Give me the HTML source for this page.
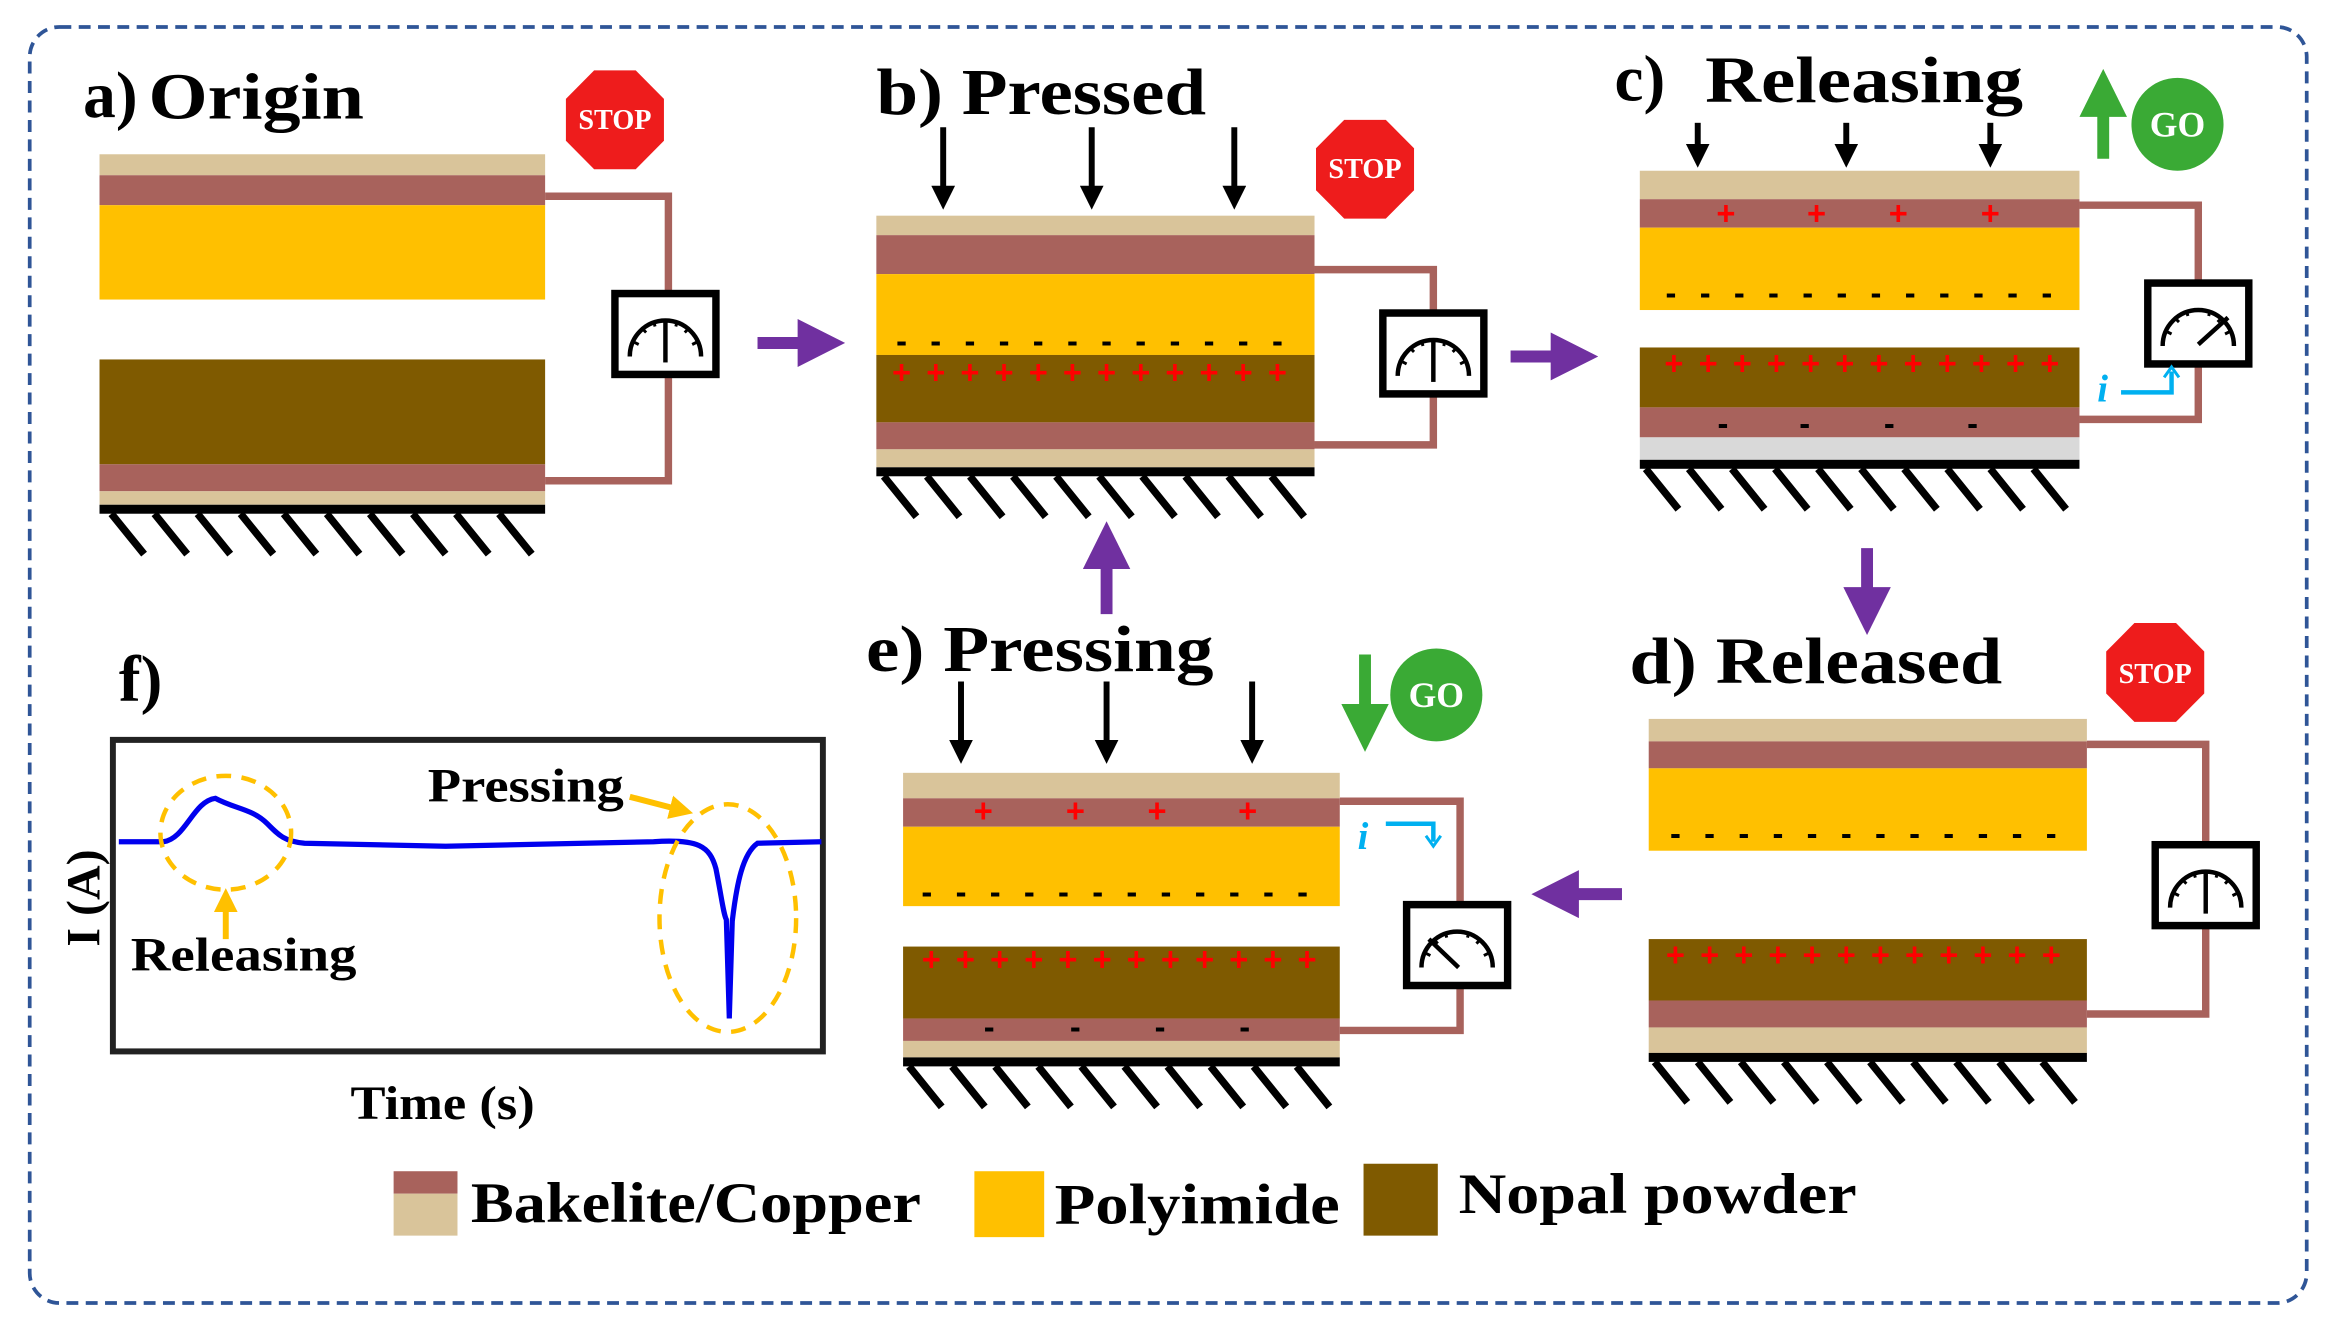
<!DOCTYPE html>
<html><head><meta charset="utf-8"><style>html,body{margin:0;padding:0;background:#fff}svg{display:block}</style></head>
<body>
<svg width="2329" height="1321" viewBox="0 0 1568 882" preserveAspectRatio="none" xmlns="http://www.w3.org/2000/svg" font-family="Liberation Serif, serif">
<defs>
<marker id="pa" markerWidth="4" markerHeight="4" refX="1" refY="2" orient="auto"><path d="M0,0 L4,2 L0,4 Z" fill="#7030a0"/></marker>
<marker id="ka" markerWidth="4" markerHeight="4" refX="1" refY="2" orient="auto"><path d="M0,0 L4,2 L0,4 Z" fill="#000"/></marker>
<marker id="ga" markerWidth="4" markerHeight="4" refX="1" refY="2" orient="auto"><path d="M0,0 L4,2 L0,4 Z" fill="#3aaa35"/></marker>
<marker id="ya" markerWidth="4" markerHeight="4" refX="1" refY="2" orient="auto"><path d="M0,0 L4,2 L0,4 Z" fill="#ffc000"/></marker>
<g id="meter"><rect x="2" y="2" width="68" height="54" fill="#fff" stroke="#000" stroke-width="5"/><path d="M12,44 A24,24 0 0 1 60,44" fill="none" stroke="#000" stroke-width="3"/><path d="M14,34 l4,2 M20,25 l3,3 M28,20 l1,4 M44,20 l-1,4 M52,25 l-3,3 M58,34 l-4,2" stroke="#000" stroke-width="2"/></g>
</defs>
<rect x="20" y="18" width="1533" height="852" rx="20" fill="none" stroke="#2f5597" stroke-width="2.5" stroke-dasharray="8,5"/>
<g font-weight="bold" font-size="44">
<text x="56" y="78">a)</text><text x="100" y="79" textLength="145" lengthAdjust="spacingAndGlyphs">Origin</text>
<text x="590" y="76" textLength="222" lengthAdjust="spacingAndGlyphs">b) Pressed</text>
<text x="1087" y="67">c)</text><text x="1148" y="68" textLength="214" lengthAdjust="spacingAndGlyphs">Releasing</text>
<text x="1097" y="456" textLength="251" lengthAdjust="spacingAndGlyphs">d) Released</text>
<text x="583" y="448" textLength="234" lengthAdjust="spacingAndGlyphs">e) Pressing</text>
<text x="80" y="468">f)</text>
</g>
<g font-family="Liberation Serif, serif" font-weight="bold" font-size="19" fill="#fff" text-anchor="middle">
<polygon points="400,47 428,47 447,66 447,94 428,113 400,113 381,94 381,66" fill="#ee1c1c"/><text x="414" y="86">STOP</text>
<polygon points="905,80 933,80 952,99 952,127 933,146 905,146 886,127 886,99" fill="#ee1c1c"/><text x="919" y="119">STOP</text>
<polygon points="1437,416 1465,416 1484,435 1484,463 1465,482 1437,482 1418,463 1418,435" fill="#ee1c1c"/><text x="1451" y="456">STOP</text>
<circle cx="1466" cy="83" r="31" fill="#3aaa35"/><text x="1466" y="91" font-size="24">GO</text>
<circle cx="967" cy="464" r="31" fill="#3aaa35"/><text x="967" y="472" font-size="24">GO</text>
</g>
<line x1="1416" y1="106" x2="1416" y2="70" stroke="#3aaa35" stroke-width="8" marker-end="url(#ga)"/>
<line x1="919" y1="437" x2="919" y2="478" stroke="#3aaa35" stroke-width="8" marker-end="url(#ga)"/>
<g fill="none" stroke="#a8625c" stroke-width="5"><path d="M367,131 H450 V196 M450,252 V321 H367"/>
<path d="M885,180 H965 V210 M965,264 V297 H885"/>
<path d="M1400,137 H1480 V190 M1480,238 V280 H1400"/>
<path d="M1405,497 H1485 V565 M1485,620 V677 H1405"/>
<path d="M902,535 H983 V605 M983,660 V688 H902"/></g>
<!-- a -->
<rect x="67" y="103" width="300" height="14" fill="#d9c49a"/><rect x="67" y="117" width="300" height="20" fill="#a8625c"/><rect x="67" y="137" width="300" height="63" fill="#ffc000"/>
<rect x="67" y="240" width="300" height="70" fill="#7f5a00"/><rect x="67" y="310" width="300" height="18" fill="#a8625c"/><rect x="67" y="328" width="300" height="9" fill="#d9c49a"/>
<rect x="67" y="337" width="300" height="6" fill="#000"/>
<path d="M75,343 l22,27 M104,343 l22,27 M133,343 l22,27 M162,343 l22,27 M191,343 l22,27 M220,343 l22,27 M249,343 l22,27 M278,343 l22,27 M307,343 l22,27 M336,343 l22,27" stroke="#000" stroke-width="5"/>
<use href="#meter" x="412" y="194"/><line x1="448" y1="242" x2="448" y2="215" stroke="#000" stroke-width="3"/>
<!-- b -->
<rect x="590" y="144" width="295" height="13" fill="#d9c49a"/><rect x="590" y="157" width="295" height="26" fill="#a8625c"/><rect x="590" y="183" width="295" height="54" fill="#ffc000"/>
<rect x="590" y="237" width="295" height="45" fill="#7f5a00"/><rect x="590" y="282" width="295" height="18" fill="#a8625c"/><rect x="590" y="300" width="295" height="12" fill="#d9c49a"/>
<rect x="590" y="312" width="295" height="6" fill="#000"/>
<path d="M595,318 l22,27 M624,318 l22,27 M653,318 l22,27 M682,318 l22,27 M711,318 l22,27 M740,318 l22,27 M769,318 l22,27 M798,318 l22,27 M827,318 l22,27 M856,318 l22,27" stroke="#000" stroke-width="5"/>
<use href="#meter" x="929" y="207"/><line x1="965" y1="255" x2="965" y2="228" stroke="#000" stroke-width="3"/>
<!-- c -->
<rect x="1104" y="114" width="296" height="19" fill="#d9c49a"/><rect x="1104" y="133" width="296" height="19" fill="#a8625c"/><rect x="1104" y="152" width="296" height="55" fill="#ffc000"/>
<rect x="1104" y="232" width="296" height="40" fill="#7f5a00"/><rect x="1104" y="272" width="296" height="20" fill="#a8625c"/><rect x="1104" y="292" width="296" height="15" fill="#d9d9d9"/>
<rect x="1104" y="307" width="296" height="6" fill="#000"/>
<path d="M1108,313 l22,27 M1137,313 l22,27 M1166,313 l22,27 M1195,313 l22,27 M1224,313 l22,27 M1253,313 l22,27 M1282,313 l22,27 M1311,313 l22,27 M1340,313 l22,27 M1369,313 l22,27" stroke="#000" stroke-width="5"/>
<use href="#meter" x="1444" y="187"/><line x1="1480" y1="230" x2="1500" y2="212" stroke="#000" stroke-width="3"/>
<!-- d -->
<rect x="1110" y="480" width="295" height="15" fill="#d9c49a"/><rect x="1110" y="495" width="295" height="18" fill="#a8625c"/><rect x="1110" y="513" width="295" height="55" fill="#ffc000"/>
<rect x="1110" y="627" width="295" height="41" fill="#7f5a00"/><rect x="1110" y="668" width="295" height="18" fill="#a8625c"/><rect x="1110" y="686" width="295" height="17" fill="#d9c49a"/>
<rect x="1110" y="703" width="295" height="6" fill="#000"/>
<path d="M1114,709 l22,27 M1143,709 l22,27 M1172,709 l22,27 M1201,709 l22,27 M1230,709 l22,27 M1259,709 l22,27 M1288,709 l22,27 M1317,709 l22,27 M1346,709 l22,27 M1375,709 l22,27" stroke="#000" stroke-width="5"/>
<use href="#meter" x="1449" y="562"/><line x1="1485" y1="610" x2="1485" y2="583" stroke="#000" stroke-width="3"/>
<!-- e -->
<rect x="608" y="516" width="294" height="17" fill="#d9c49a"/><rect x="608" y="533" width="294" height="19" fill="#a8625c"/><rect x="608" y="552" width="294" height="53" fill="#ffc000"/>
<rect x="608" y="632" width="294" height="48" fill="#7f5a00"/><rect x="608" y="680" width="294" height="15" fill="#a8625c"/><rect x="608" y="695" width="294" height="11" fill="#d9c49a"/>
<rect x="608" y="706" width="294" height="6" fill="#000"/>
<path d="M612,712 l22,27 M641,712 l22,27 M670,712 l22,27 M699,712 l22,27 M728,712 l22,27 M757,712 l22,27 M786,712 l22,27 M815,712 l22,27 M844,712 l22,27 M873,712 l22,27" stroke="#000" stroke-width="5"/>
<use href="#meter" x="945" y="602"/><line x1="982" y1="646" x2="962" y2="627" stroke="#000" stroke-width="3"/>
<!-- charges -->
<g font-family="Liberation Sans, sans-serif" font-weight="bold" font-size="22" text-anchor="middle">
<g fill="#ff0000">
<text x="607 630 653 676 699 722 745 768 791 814 837 860" y="256">++++++++++++</text>
<text x="1162 1223 1278 1340" y="150">++++</text>
<text x="1127 1150 1173 1196 1219 1242 1265 1288 1311 1334 1357 1380" y="250">++++++++++++</text>
<text x="1128 1151 1174 1197 1220 1243 1266 1289 1312 1335 1358 1381" y="645">++++++++++++</text>
<text x="662 724 779 840" y="549">++++</text>
<text x="627 650 673 696 719 742 765 788 811 834 857 880" y="648">++++++++++++</text>
</g>
<g fill="#000">
<text x="607 630 653 676 699 722 745 768 791 814 837 860" y="235">------------</text>
<text x="1125 1148 1171 1194 1217 1240 1263 1286 1309 1332 1355 1378" y="203">------------</text>
<text x="1128 1151 1174 1197 1220 1243 1266 1289 1312 1335 1358 1381" y="564">------------</text>
<text x="624 647 670 693 716 739 762 785 808 831 854 877" y="603">------------</text>
<text x="1160 1215 1272 1328" y="290">----</text>
<text x="666 724 781 838" y="693">----</text>
</g></g>
<g fill="#00b0f0" font-style="italic" font-weight="bold" font-size="26"><text x="1412" y="268">i</text><text x="914" y="567">i</text></g>
<path d="M1428,262 H1462 V248" fill="none" stroke="#00b0f0" stroke-width="3"/><path d="M1457,252 L1462,245 L1467,252" fill="none" stroke="#00b0f0" stroke-width="2"/>
<path d="M933,550 H965 V562" fill="none" stroke="#00b0f0" stroke-width="3"/><path d="M960,558 L965,565 L970,558" fill="none" stroke="#00b0f0" stroke-width="2"/>
<g stroke="#000" stroke-width="4" marker-end="url(#ka)">
<line x1="635" y1="85" x2="635" y2="128"/><line x1="735" y1="85" x2="735" y2="128"/><line x1="831" y1="85" x2="831" y2="128"/>
<line x1="1143" y1="82" x2="1143" y2="100"/><line x1="1243" y1="82" x2="1243" y2="100"/><line x1="1340" y1="82" x2="1340" y2="100"/>
<line x1="647" y1="455" x2="647" y2="498"/><line x1="745" y1="455" x2="745" y2="498"/><line x1="843" y1="455" x2="843" y2="498"/>
</g>
<g stroke="#7030a0" stroke-width="8" marker-end="url(#pa)">
<line x1="510" y1="229" x2="545" y2="229"/><line x1="1017" y1="238" x2="1052" y2="238"/>
<line x1="1257" y1="366" x2="1257" y2="400"/><line x1="1092" y1="597" x2="1055" y2="597"/>
<line x1="745" y1="410" x2="745" y2="372"/>
</g>
<rect x="76" y="494" width="478" height="208" fill="#fff" stroke="#222" stroke-width="4"/>
<path d="M80,562 L110,562 C125,560 130,535 145,533 C158,540 170,540 180,550 C188,558 192,562 205,563 L300,565 L440,562 C470,560 478,565 482,580 C486,600 487,610 489,614 L491,680 L493,615 C496,590 500,570 510,563 L553,562" fill="none" stroke="#0000ee" stroke-width="3.5"/>
<g fill="none" stroke="#ffc000" stroke-width="3" stroke-dasharray="10,7">
<ellipse cx="152" cy="556" rx="44" ry="38"/><ellipse cx="490" cy="613" rx="46" ry="76"/></g>
<line x1="152" y1="627" x2="152" y2="605" stroke="#ffc000" stroke-width="4" marker-end="url(#ya)"/>
<line x1="424" y1="532" x2="455" y2="540" stroke="#ffc000" stroke-width="4" marker-end="url(#ya)"/>
<g font-weight="bold" font-size="32"><text x="288" y="535" textLength="132" lengthAdjust="spacingAndGlyphs">Pressing</text><text x="88" y="648" textLength="152" lengthAdjust="spacingAndGlyphs">Releasing</text>
<text x="236" y="747" textLength="124" lengthAdjust="spacingAndGlyphs">Time (s)</text>
<text transform="translate(67,632) rotate(-90)">I (A)</text></g>
<rect x="265" y="782" width="43" height="15" fill="#a8625c"/><rect x="265" y="797" width="43" height="28" fill="#d9c49a"/>
<rect x="656" y="782" width="47" height="44" fill="#ffc000"/><rect x="918" y="777" width="50" height="48" fill="#7f5a00"/>
<g font-weight="bold" font-size="38"><text x="317" y="816" textLength="303" lengthAdjust="spacingAndGlyphs">Bakelite/Copper</text><text x="710" y="817" textLength="192" lengthAdjust="spacingAndGlyphs">Polyimide</text><text x="982" y="810" textLength="268" lengthAdjust="spacingAndGlyphs">Nopal powder</text></g>
</svg>
</body></html>
